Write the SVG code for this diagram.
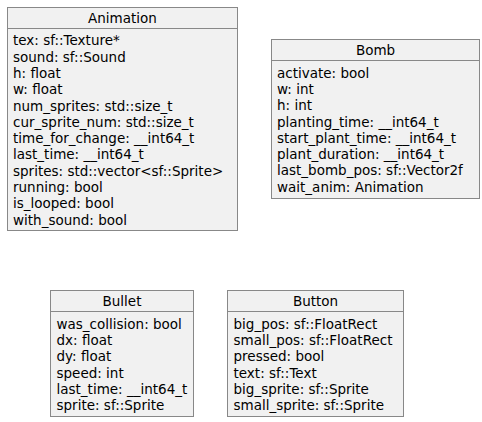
<svg xmlns="http://www.w3.org/2000/svg" width="482" height="422" viewBox="0 0 482 422">
<style>
.box{fill:#F1F1F1;stroke:#888888;stroke-width:1}
.div{stroke:#888888;stroke-width:1}
text{font-family:"DejaVu Sans",sans-serif;font-size:13.5px;fill:#000000}
.t{text-anchor:middle}
</style>
<rect width="482" height="422" fill="#FFFFFF"/>
<g id="Animation">
<rect class="box" x="7.5" y="7.5" width="230" height="223"/>
<line class="div" x1="7.5" y1="28.5" x2="237.5" y2="28.5"/>
<text class="t" x="122.5" y="23">Animation</text>
<text x="13" y="45.3">tex: sf::Texture*</text>
<text x="13" y="61.6">sound: sf::Sound</text>
<text x="13" y="77.9">h: float</text>
<text x="13" y="94.2">w: float</text>
<text x="13" y="110.5">num_sprites: std::size_t</text>
<text x="13" y="126.8">cur_sprite_num: std::size_t</text>
<text x="13" y="143.1">time_for_change: __int64_t</text>
<text x="13" y="159.4">last_time: __int64_t</text>
<text x="13" y="175.7">sprites: std::vector&lt;sf::Sprite&gt;</text>
<text x="13" y="192">running: bool</text>
<text x="13" y="208.3">is_looped: bool</text>
<text x="13" y="224.6">with_sound: bool</text>
</g>
<g id="Bomb">
<rect class="box" x="271.5" y="39.5" width="208" height="159"/>
<line class="div" x1="271.5" y1="60.5" x2="479.5" y2="60.5"/>
<text class="t" x="375.5" y="55">Bomb</text>
<text x="277" y="77.6">activate: bool</text>
<text x="277" y="93.9">w: int</text>
<text x="277" y="110.2">h: int</text>
<text x="277" y="126.5">planting_time: __int64_t</text>
<text x="277" y="142.8">start_plant_time: __int64_t</text>
<text x="277" y="159.1">plant_duration: __int64_t</text>
<text x="277" y="175.4">last_bomb_pos: sf::Vector2f</text>
<text x="277" y="191.7">wait_anim: Animation</text>
</g>
<g id="Bullet">
<rect class="box" x="50.5" y="290.5" width="143" height="126"/>
<line class="div" x1="50.5" y1="311.5" x2="193.5" y2="311.5"/>
<text class="t" x="122" y="306">Bullet</text>
<text x="56.5" y="328.8">was_collision: bool</text>
<text x="56.5" y="345.1">dx: float</text>
<text x="56.5" y="361.4">dy: float</text>
<text x="56.5" y="377.7">speed: int</text>
<text x="56.5" y="394">last_time: __int64_t</text>
<text x="56.5" y="410.3">sprite: sf::Sprite</text>
</g>
<g id="Button">
<rect class="box" x="227.5" y="290.5" width="176" height="126"/>
<line class="div" x1="227.5" y1="311.5" x2="403.5" y2="311.5"/>
<text class="t" x="315.5" y="306">Button</text>
<text x="233.5" y="328.8">big_pos: sf::FloatRect</text>
<text x="233.5" y="345.1">small_pos: sf::FloatRect</text>
<text x="233.5" y="361.4">pressed: bool</text>
<text x="233.5" y="377.7">text: sf::Text</text>
<text x="233.5" y="394">big_sprite: sf::Sprite</text>
<text x="233.5" y="410.3">small_sprite: sf::Sprite</text>
</g>
</svg>
